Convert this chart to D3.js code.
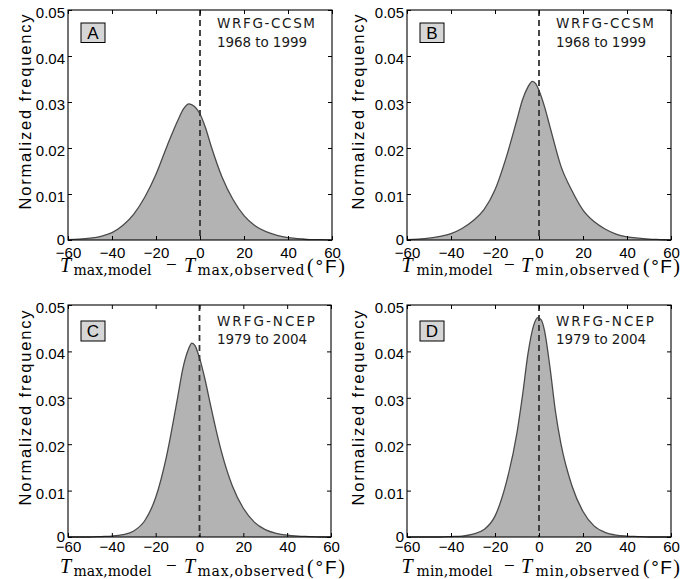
<!DOCTYPE html>
<html>
<head>
<meta charset="utf-8">
<script src="https://cdn.jsdelivr.net/npm/d3@7"></script>
<style>
  html, body { margin: 0; padding: 0; background: #fff; }
  svg { display: block; }
</style>
</head>
<body>
<svg id="chart" width="700" height="579"></svg>
<script>
// ---------------- data ----------------
const xTicks = [-60, -40, -20, 0, 20, 40, 60];
const xTickLabels = ["\u221260", "\u221240", "\u221220", "0", "20", "40", "60"];
const yTicks = [0, 0.01, 0.02, 0.03, 0.04, 0.05];
const yTickLabels = ["0", "0.01", "0.02", "0.03", "0.04", "0.05"];

const panelLetters = ["A", "B", "C", "D"];
const panelModels = ["WRFG-CCSM", "WRFG-CCSM", "WRFG-NCEP", "WRFG-NCEP"];
const panelYears = ["1968 to 1999", "1968 to 1999", "1979 to 2004", "1979 to 2004"];
const panelVariables = ["max", "min", "max", "min"];

// Panel A: Tmax, WRFG-CCSM
const xA = [-60,-55,-50,-45,-40,-35,-30,-25,-20,-15,-10,-7.5,-5,-2.5,0,2.5,5,10,15,20,25,30,35,40,45,50,55,60];
const yA = [0.0001,0.0002,0.0004,0.0008,0.0016,0.0032,0.0057,0.0094,0.0143,0.0204,0.0261,0.0285,0.0296,0.0290,0.0274,0.0244,0.0205,0.0137,0.0088,0.0053,0.0031,0.0018,0.0010,0.0005,0.0003,0.0001,0.0001,0];
// Panel B: Tmin, WRFG-CCSM
const xB = [-60,-55,-50,-45,-40,-35,-30,-25,-20,-15,-10,-7.5,-5,-3,-1.5,0,2.5,5,10,15,20,25,30,35,40,45,50,55,60];
const yB = [0.0001,0.0002,0.0004,0.0008,0.0014,0.0025,0.0042,0.0066,0.0109,0.0178,0.0262,0.0305,0.0333,0.0345,0.0340,0.0325,0.0290,0.0246,0.0160,0.0107,0.0065,0.0040,0.0024,0.0013,0.0007,0.0004,0.0002,0.0001,0];
// Panel C: Tmax, WRFG-NCEP
const xC = [-60,-55,-50,-45,-40,-35,-30,-25,-20,-15,-10,-7.5,-5,-3.5,-2,0,2.5,5,7.5,10,15,20,25,30,35,40,45,50,55,60];
const yC = [0,0,0,0.0001,0.0002,0.0005,0.0013,0.0035,0.0085,0.0175,0.0300,0.0365,0.0405,0.0418,0.0412,0.0386,0.0340,0.0285,0.0232,0.0184,0.0110,0.0062,0.0032,0.0016,0.0008,0.0004,0.0002,0.0001,0,0];
// Panel D: Tmin, WRFG-NCEP
const xD = [-60,-50,-45,-40,-35,-30,-25,-20,-15,-10,-7.5,-5,-2.5,-0.5,1,2.5,5,7.5,10,15,20,25,30,35,40,45,50,60];
const yD = [0,0,0,0.0001,0.0002,0.0006,0.0016,0.0045,0.0115,0.0225,0.0305,0.0395,0.0455,0.0473,0.0468,0.0445,0.0365,0.0270,0.0200,0.0110,0.0055,0.0024,0.0010,0.0004,0.0002,0.0001,0,0];

const seriesX = [xA, xB, xC, xD];
const seriesY = [yA, yB, yC, yD];

// ---------------- layout ----------------
const layout = [
  { left: 68,  top: 10,  width: 264, height: 230, tickBase: 18, labelBase: 32, boxTop: 13, boxH: 19.5, txt1: 18.3, txt2: 36.7, yLabX: 31 },
  { left: 407, top: 10,  width: 264, height: 230, tickBase: 18, labelBase: 32, boxTop: 13, boxH: 19.5, txt1: 18.3, txt2: 36.7, yLabX: 364 },
  { left: 68,  top: 305, width: 263, height: 232, tickBase: 15, labelBase: 36, boxTop: 16, boxH: 20,   txt1: 20.5, txt2: 39,   yLabX: 31 },
  { left: 407, top: 305, width: 264, height: 232, tickBase: 15, labelBase: 36, boxTop: 16, boxH: 20,   txt1: 20.5, txt2: 39,   yLabX: 364 }
];
// x-label piece offsets (relative to box left) for "max" and "min"
const xlabGeom = {
  max: { t1: -8,   s1: 5.5, s1w: 78, minus: 98,  t2: 116, s2: 129.5, s2w: 107, unit: 239, unitW: 38 },
  min: { t1: -5.5, s1: 9.5, s1w: 76, minus: 97,  t2: 114, s2: 128.5, s2w: 104, unit: 236, unitW: 37 }
};

const SANS = "'Liberation Sans', Arial, Helvetica, sans-serif";
const SERIF = "'Liberation Serif', 'Times New Roman', serif";
const SUBSERIF = "'DejaVu Serif', serif";
const VERA = "'DejaVu Sans', sans-serif";

const svg = d3.select("#chart");

panelLetters.forEach((letter, i) => {
  const L = layout[i];
  const R = L.left + L.width, B = L.top + L.height, T = L.top;
  const x = d3.scaleLinear().domain([-60, 60]).range([L.left, R]);
  const y = d3.scaleLinear().domain([0, 0.05]).range([B, T]);
  const g = svg.append("g");
  const pts = seriesX[i].map((v, k) => [v, seriesY[i][k]]);

  // filled distribution
  g.append("path")
    .datum(pts)
    .attr("d", d3.area().x(d => x(d[0])).y0(y(0)).y1(d => y(d[1])).curve(d3.curveMonotoneX))
    .attr("fill", "#b3b3b3");
  g.append("path")
    .datum(pts)
    .attr("d", d3.line().x(d => x(d[0])).y(d => y(d[1])).curve(d3.curveMonotoneX))
    .attr("fill", "none")
    .attr("stroke", "#4a4a4a")
    .attr("stroke-width", 1.3);

  // dashed zero line
  g.append("line")
    .attr("x1", x(0)).attr("x2", x(0))
    .attr("y1", T).attr("y2", B)
    .attr("stroke", "#333")
    .attr("stroke-width", 1.8)
    .attr("stroke-dasharray", "6,4");

  // axes
  const fmtX = (d, k) => xTickLabels[k];
  const fmtY = (d, k) => yTickLabels[k];
  const ax = g.append("g").attr("transform", `translate(0,${B})`)
    .call(d3.axisBottom(x).tickValues(xTicks).tickFormat(fmtX).tickSize(-4).tickPadding(L.tickBase - 10.6));
  const axTop = g.append("g").attr("transform", `translate(0,${T})`)
    .call(d3.axisTop(x).tickValues(xTicks).tickFormat("").tickSize(-4));
  const ay = g.append("g").attr("transform", `translate(${L.left},0)`)
    .call(d3.axisLeft(y).tickValues(yTicks).tickFormat(fmtY).tickSize(-4).tickPadding(3));
  const ayR = g.append("g").attr("transform", `translate(${R},0)`)
    .call(d3.axisRight(y).tickValues(yTicks).tickFormat("").tickSize(-4));
  [ax, axTop, ay, ayR].forEach(a => {
    a.select(".domain").remove();
    a.selectAll(".tick line").attr("stroke", "#000").attr("stroke-width", 1);
    a.selectAll("text").attr("font-family", SANS).attr("font-size", 15).attr("fill", "#000");
  });
  ay.selectAll("text").attr("dy", (d, k) => k === 0 ? "0.3em" : "0.5em");

  // box
  g.append("rect")
    .attr("x", L.left).attr("y", T)
    .attr("width", L.width).attr("height", L.height)
    .attr("fill", "none").attr("stroke", "#000").attr("stroke-width", 1.1);

  // panel letter
  g.append("rect")
    .attr("x", L.left + 13).attr("y", T + L.boxTop)
    .attr("width", 24).attr("height", L.boxH)
    .attr("fill", "#d6d6d6").attr("stroke", "#000").attr("stroke-width", 1);
  g.append("text")
    .attr("x", L.left + 25).attr("y", T + L.boxTop + L.boxH / 2 + 6.2)
    .attr("text-anchor", "middle")
    .attr("font-family", SANS).attr("font-size", 17).attr("fill", "#000")
    .text(letter);

  // model / years
  g.append("text")
    .attr("x", L.left + 149).attr("y", T + L.txt1)
    .attr("font-family", VERA).attr("font-size", 13.5).attr("fill", "#1a1a1a")
    .attr("textLength", 98).attr("lengthAdjust", "spacing")
    .text(panelModels[i]);
  g.append("text")
    .attr("x", L.left + 149).attr("y", T + L.txt2)
    .attr("font-family", VERA).attr("font-size", 13.5).attr("fill", "#1a1a1a")
    .attr("textLength", 90).attr("lengthAdjust", "spacing")
    .text(panelYears[i]);

  // y label
  const cy = (T + B) / 2 - 13;
  g.append("text")
    .attr("transform", `translate(${L.yLabX},${cy}) rotate(-90)`)
    .attr("text-anchor", "middle")
    .attr("font-family", SANS).attr("font-size", 16.5).attr("fill", "#000")
    .attr("textLength", 195).attr("lengthAdjust", "spacing")
    .text("Normalized frequency");

  // x label
  const v = panelVariables[i];
  const G = xlabGeom[v];
  const by = B + L.labelBase;
  const lx = L.left;
  g.append("text").attr("x", lx + G.t1).attr("y", by)
    .attr("font-family", SERIF).attr("font-style", "italic").attr("font-size", 20).attr("fill", "#000")
    .text("T");
  g.append("text").attr("x", lx + G.s1).attr("y", by + 3)
    .attr("font-family", SUBSERIF).attr("font-size", 14).attr("fill", "#000")
    .attr("textLength", G.s1w).attr("lengthAdjust", "spacing")
    .text(v + ",model");
  g.append("text").attr("x", lx + G.minus).attr("y", by - 1)
    .attr("font-family", SERIF).attr("font-size", 19).attr("fill", "#000")
    .text("\u2212");
  g.append("text").attr("x", lx + G.t2).attr("y", by)
    .attr("font-family", SERIF).attr("font-style", "italic").attr("font-size", 20).attr("fill", "#000")
    .text("T");
  g.append("text").attr("x", lx + G.s2).attr("y", by + 3)
    .attr("font-family", SUBSERIF).attr("font-size", 14).attr("fill", "#000")
    .attr("textLength", G.s2w).attr("lengthAdjust", "spacing")
    .text(v + ",observed");
  const u = g.append("text").attr("x", lx + G.unit).attr("y", by + 1)
    .attr("font-size", 20).attr("fill", "#000")
    .attr("textLength", G.unitW).attr("lengthAdjust", "spacing");
  u.append("tspan").attr("font-family", SERIF).text("(");
  u.append("tspan").attr("font-family", SANS).attr("font-size", 19).text("\u00B0F");
  u.append("tspan").attr("font-family", SERIF).text(")");
});
</script>
</body>
</html>
